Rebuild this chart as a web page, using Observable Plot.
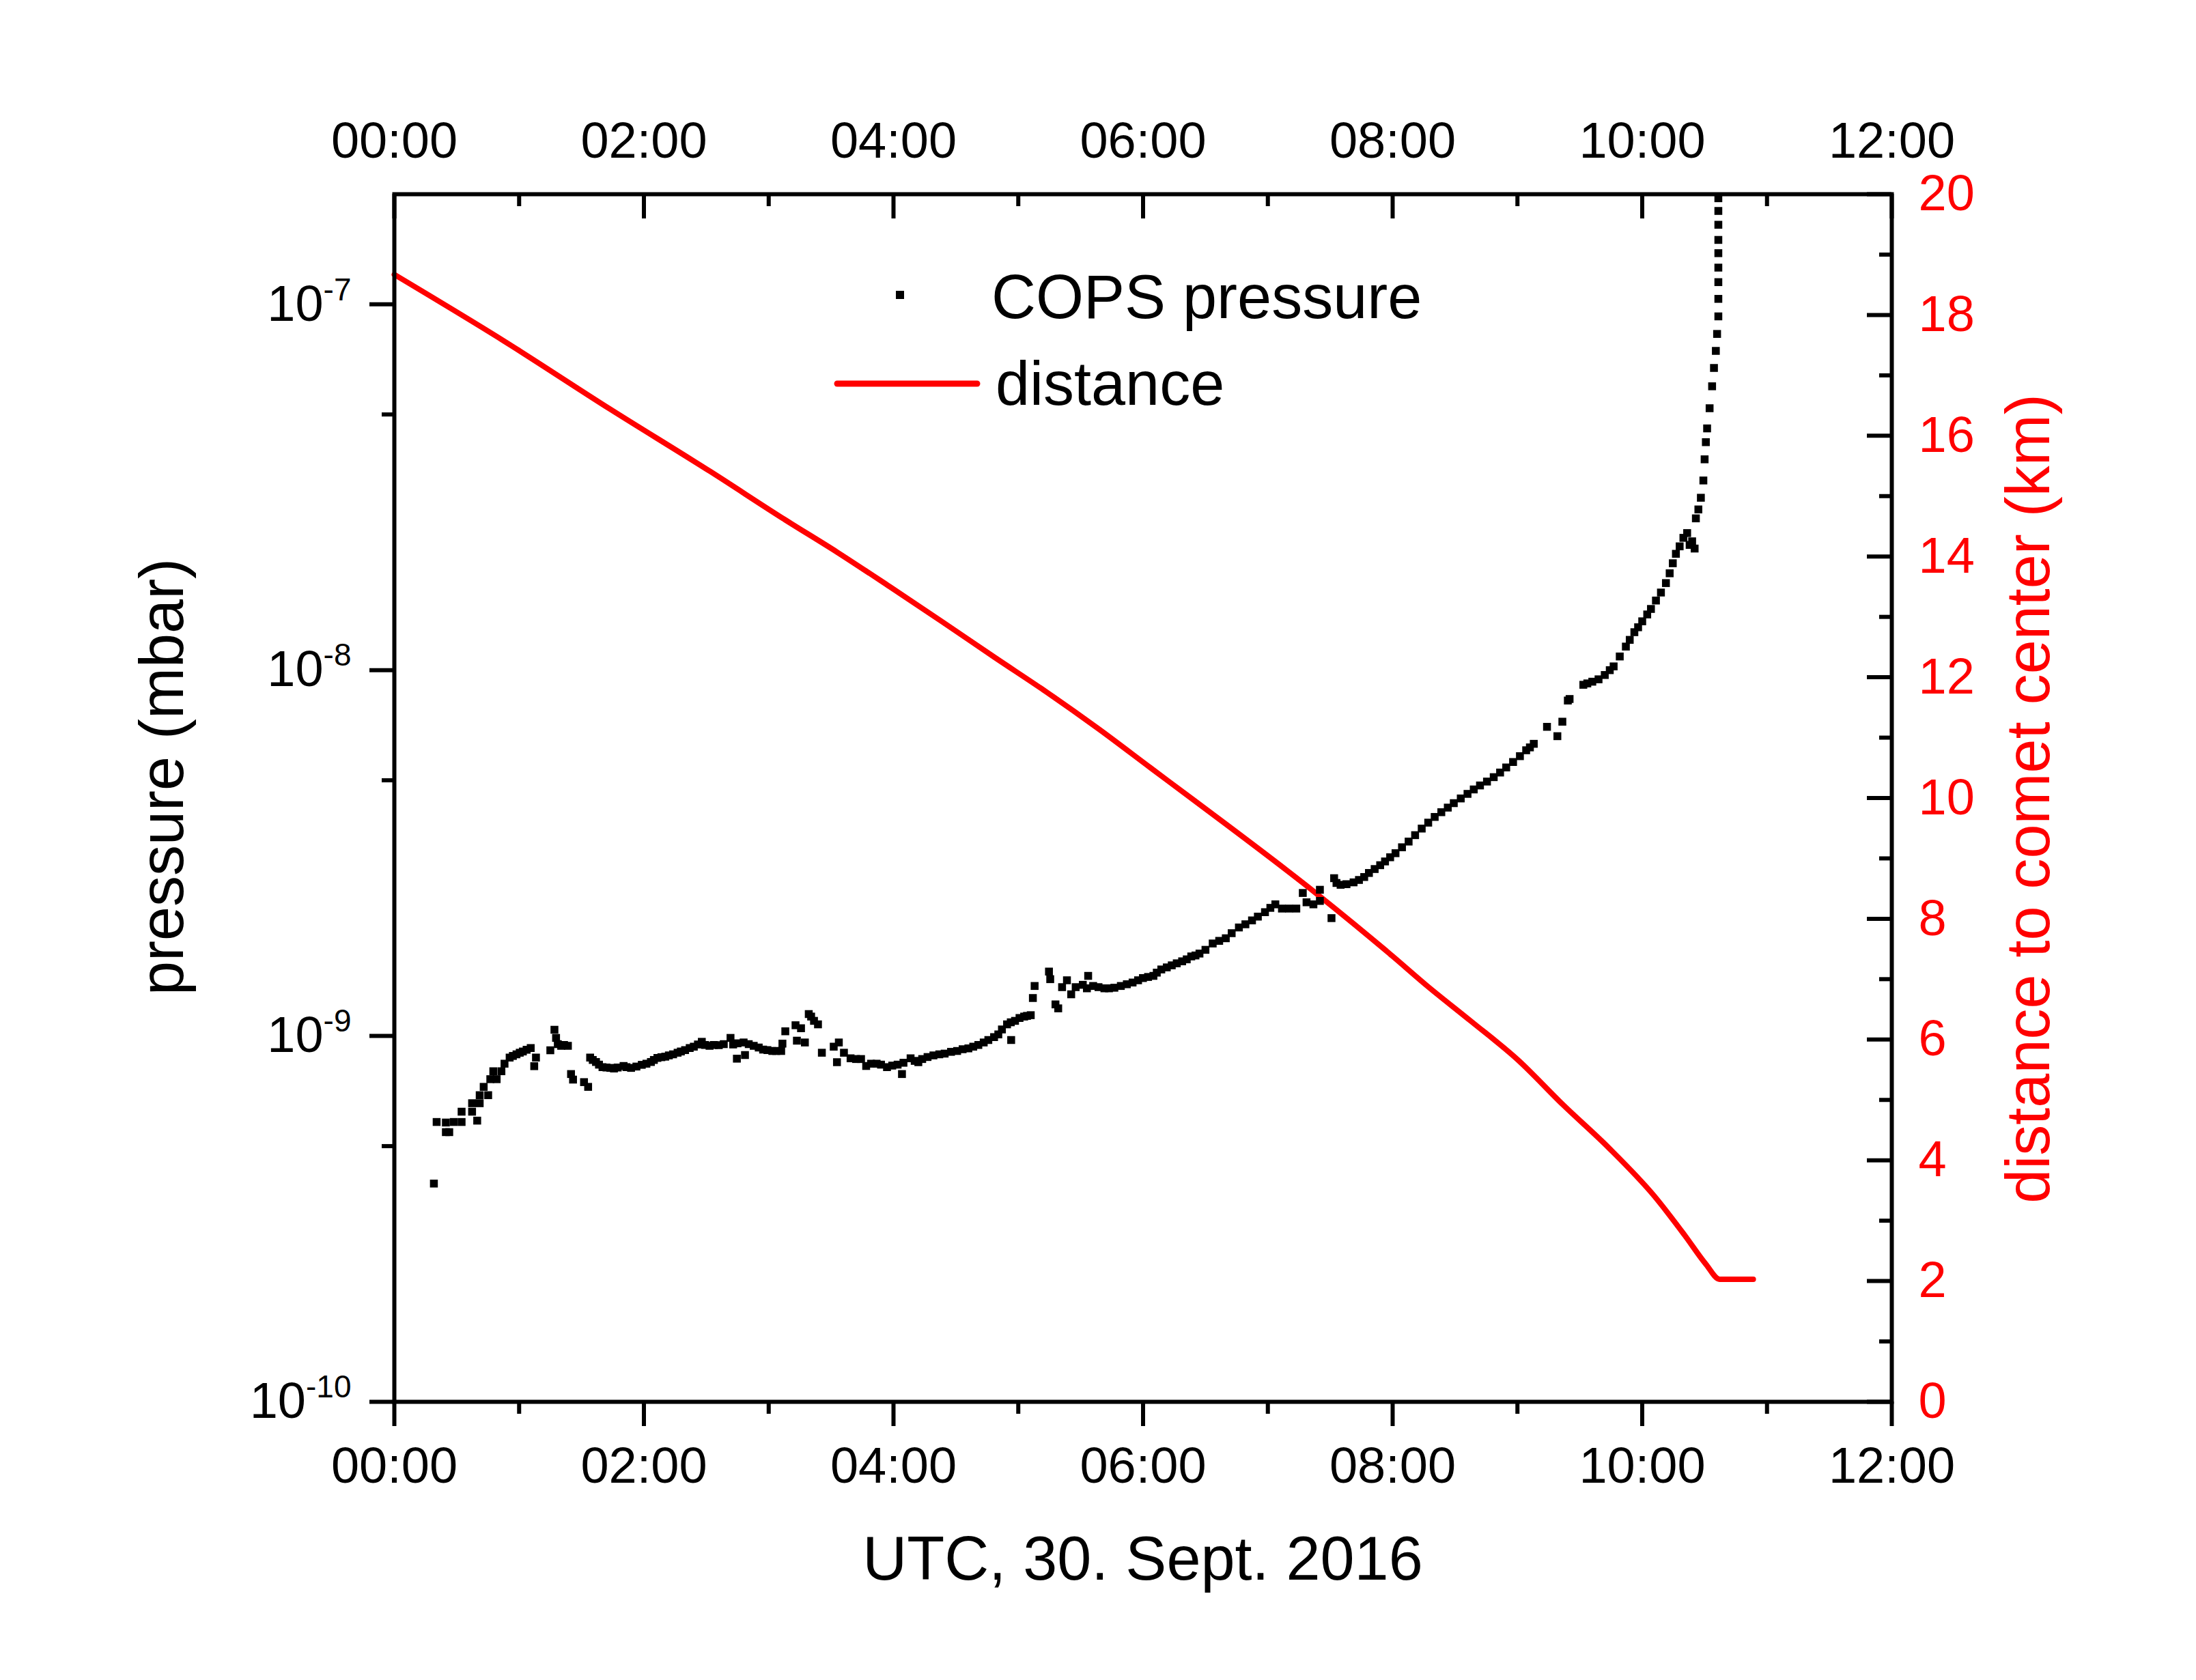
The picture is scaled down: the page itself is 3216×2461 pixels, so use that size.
<!DOCTYPE html>
<html>
<head>
<meta charset="utf-8">
<script src="https://cdn.jsdelivr.net/npm/d3@7"></script>
<script src="https://cdn.jsdelivr.net/npm/@observablehq/plot@0.6"></script>
<style>
  html, body { margin: 0; padding: 0; background: #fff; }
</style>
</head>
<body>
<div id="chart"></div>
<script>
// ---- data: [time (hours UTC, 30 Sept 2016), pressure in units of 1e-10 mbar] ----
const presEarly = [
  [0.317,3.95],[0.339,5.82],[0.413,5.80],[0.413,5.46],[0.440,5.46],[0.476,5.82],[0.539,5.82],[0.539,6.21],[0.623,6.21],[0.623,6.55],
  [0.664,5.87],[0.684,6.55],[0.684,6.89],[0.716,7.26],[0.752,6.89],[0.769,7.62],[0.793,8.01],[0.820,7.62],[0.858,8.01],[0.883,8.40],
  [0.924,8.73],[0.95,8.82],[0.979,8.91],[1.005,9.0],[1.030,9.07],[1.06,9.17],[1.093,9.27],[1.121,8.27],[1.135,8.73],[1.250,9.14],
  [1.283,10.4],[1.296,9.88],[1.31,9.5],[1.337,9.40],[1.36,9.45],[1.391,9.40],[1.416,7.87],[1.432,7.60],[1.520,7.48],[1.553,7.26],
  [1.569,8.73],[1.59,8.6],[1.616,8.49],[1.64,8.35],[1.668,8.22],[1.70,8.2],[1.731,8.18],[1.76,8.15],[1.79,8.2],[1.837,8.28],
  [1.86,8.22],[1.897,8.18],[1.94,8.25],[1.983,8.34],[2.02,8.40],[2.056,8.49],[2.08,8.6],[2.108,8.71],[2.14,8.75],[2.171,8.78],
  [2.20,8.85],[2.234,8.91],[2.27,9.0],[2.296,9.07],[2.33,9.15],[2.367,9.27],[2.40,9.35],[2.433,9.48],[2.464,9.64],[2.49,9.45],
  [2.526,9.40],[2.56,9.45],[2.600,9.44],[2.64,9.5],[2.694,9.88],[2.715,9.48],[2.745,8.67],[2.75,9.55],[2.799,9.60],[2.810,8.87],
  [2.84,9.5],[2.880,9.40],[2.92,9.3],[2.955,9.18],[2.99,9.15],[3.029,9.10],[3.06,9.1],[3.100,9.10],[3.110,9.53],[3.133,10.3],
  [3.215,10.7],[3.226,9.71],[3.259,10.5],[3.290,9.60],[3.321,11.48],[3.34,11.3],[3.363,11.0],[3.395,10.76],[3.426,9.00],[3.521,9.35],
  [3.547,8.48],[3.562,9.60],[3.603,9.00]
];
const presMid = [
  [3.656,8.69],[3.70,8.65],[3.740,8.65],[3.781,8.28],[3.82,8.4],[3.865,8.40],[3.90,8.35],[3.948,8.22],[3.99,8.3],[4.033,8.35],
  [4.068,7.87],[4.08,8.45],[4.137,8.69],[4.17,8.55],[4.199,8.48],[4.23,8.65],[4.273,8.76],[4.32,8.85],[4.367,8.91],[4.41,8.95],
  [4.461,9.05],[4.51,9.1],[4.554,9.20],[4.60,9.25],[4.639,9.35],[4.68,9.45],[4.723,9.60],[4.76,9.75],[4.806,9.93],[4.84,10.1],
  [4.869,10.42],[4.910,10.76],[4.94,10.9],[4.943,9.75],[4.974,11.0],[5.01,11.2],[5.047,11.3],[5.07,11.35],[5.100,11.4],[5.117,12.7],
  [5.131,13.7],[5.246,15.0],[5.256,14.3],[5.298,12.2],[5.320,11.9],[5.351,13.6],[5.390,14.2],[5.424,13.0],[5.46,13.6],[5.517,13.8],
  [5.550,13.5],[5.560,14.6],[5.60,13.7],[5.643,13.6],[5.69,13.5],[5.727,13.5],[5.77,13.55],[5.822,13.7],[5.87,13.85],[5.916,14.0],
  [5.96,14.2],[5.999,14.4],[6.04,14.5],[6.083,14.6],[6.11,14.9],[6.146,15.2],[6.19,15.4],[6.230,15.6],[6.27,15.8],[6.313,16.0],
  [6.35,16.2],[6.386,16.5],[6.42,16.6],[6.452,16.8],[6.50,17.2],[6.558,17.9],[6.61,18.2],[6.663,18.5],[6.71,19.1],[6.768,19.8],
  [6.82,20.2],[6.873,20.7],[6.92,21.2],[6.977,21.8],[7.02,22.4],[7.060,22.9],[7.113,22.3],[7.17,22.3],[7.228,22.3],[7.280,24.6],
  [7.310,23.2],[7.365,22.9],[7.417,25.1],[7.417,23.4],[7.510,21.0]
];
const presLate = [
  [7.531,27.0],[7.55,26.2],[7.583,25.9],[7.63,26.0],[7.687,26.3],[7.73,26.7],[7.772,27.2],[7.81,27.9],[7.856,28.6],[7.90,29.3],
  [7.939,30.0],[7.98,30.8],[8.023,31.6],[8.075,32.8],[8.128,34.0],[8.18,35.4],[8.233,36.9],[8.285,38.3],[8.337,39.7],[8.39,40.9],
  [8.442,42.1],[8.49,43.3],[8.546,44.6],[8.60,45.9],[8.650,47.2],[8.70,48.4],[8.756,49.6],[8.81,51.0],[8.861,52.5],[8.91,54.2],
  [8.965,56.1],[9.02,58.2],[9.070,60.4],[9.10,61.5],[9.131,62.9],[9.237,70.0],[9.320,66.0],[9.360,72.3],[9.404,82.6],[9.418,83.4],
  [9.528,91.2],[9.56,92.0],[9.60,93.0],[9.650,94.4],[9.70,97.0],[9.74,100.0],[9.771,102.4],[9.82,109],[9.869,116],[9.90,121],
  [9.937,127],[9.967,131],[10.00,136],[10.04,142],[10.07,147],[10.11,155],[10.15,163],[10.19,173],[10.22,184],[10.245,196],
  [10.27,208],[10.30,218],[10.33,230],[10.36,237],[10.38,220],[10.40,225],[10.42,215],[10.43,260],[10.45,275],[10.47,296],
  [10.49,330],[10.50,377],[10.51,420],[10.52,458],[10.54,520],[10.56,597],[10.575,670],[10.59,746],[10.60,830],[10.61,927],
  [10.61,1035],[10.61,1150],[10.61,1260],[10.61,1380],[10.61,1500],[10.61,1650],[10.61,1800],[10.61,1950]
];
const distTime = [0.0,0.87,1.73,2.53,3.13,3.55,3.97,4.39,4.81,5.23,5.64,6.06,6.41,7.40,8.00,8.27,8.63,9.00,9.37,9.73,10.10,10.34,10.51,10.62,10.89];
const distKm   = [18.67,17.58,16.44,15.41,14.61,14.07,13.50,12.92,12.33,11.75,11.15,10.50,9.96,8.40,7.38,6.90,6.30,5.67,4.91,4.21,3.40,2.76,2.28,2.03,2.03];

const xMajorTicks = [0,2,4,6,8,10,12];
const xMinorTicks = [1,3,5,7,9,11];
const yMajorTicks = [1e-10,1e-9,1e-8,1e-7];
const yMinorTicks = [5e-10,5e-9,5e-8];
const kmMajorTicks = [0,2,4,6,8,10,12,14,16,18,20];
const kmMinorTicks = [1,3,5,7,9,11,13,15,17,19];

// ---- layout ----
const W = 3216, H = 2461;
const mT = 284, mR = 446, mB = 408, mL = 577;
const plotW = W - mL - mR, plotH = H - mT - mB;
const RED = "#ff0000";
const FONT = "'Liberation Sans', Arial, Helvetica, sans-serif";

// right axis (0–20 km) mapped onto the log pressure axis [1e-10, 2e-7]
const pMin = 1e-10, pMax = 2e-7, kmMax = 20;
const kmToP = km => pMin * Math.pow(pMax / pMin, km / kmMax);

const pressure = [...presEarly, ...presMid, ...presLate].map(([t, v]) => ({t, p: v * 1e-10}));
const distance = distTime.map((t, i) => ({t, p: kmToP(distKm[i])}));

const hhmm = h => String(h).padStart(2, "0") + ":00";

const svg = Plot.plot({
  width: W, height: H,
  marginTop: mT, marginRight: mR, marginBottom: mB, marginLeft: mL,
  style: {fontFamily: FONT, fontSize: "74px", background: "#fff", color: "#000"},
  x: {domain: [0, 12], label: null},
  y: {type: "log", domain: [pMin, pMax], label: null},
  marks: [
    // bottom axis (outward ticks)
    Plot.axisX({anchor: "bottom", ticks: xMajorTicks, tickFormat: hhmm, tickSize: 36, tickPadding: 30, strokeWidth: 6, label: null}),
    Plot.axisX({anchor: "bottom", ticks: xMinorTicks, tickFormat: () => "", tickSize: 18, strokeWidth: 6, label: null}),
    // top axis labels + inward ticks
    Plot.axisX({anchor: "top", ticks: xMajorTicks, tickFormat: hhmm, tickSize: 0, tickPadding: 54, label: null}),
    Plot.ruleX(xMajorTicks, {x: d => d, insetBottom: plotH - 36, stroke: "#000", strokeWidth: 6}),
    Plot.ruleX(xMinorTicks, {x: d => d, insetBottom: plotH - 18, stroke: "#000", strokeWidth: 6}),
    // left axis (outward ticks)
    Plot.axisY({anchor: "left", ticks: yMajorTicks, tickFormat: d => "10^" + Math.round(Math.log10(d)), tickSize: 36, tickPadding: 27, strokeWidth: 6, label: null}),
    Plot.axisY({anchor: "left", ticks: yMinorTicks, tickFormat: () => "", tickSize: 18, strokeWidth: 6, label: null}),
    // right axis (km): red labels, inward ticks
    Plot.text(kmMajorTicks, {y: d => kmToP(d), text: d => String(d), frameAnchor: "right", dx: 39, textAnchor: "start", lineAnchor: "middle", fill: RED, fontSize: 74}),
    Plot.ruleY(kmMajorTicks.map(kmToP), {y: d => d, insetLeft: plotW - 36, stroke: "#000", strokeWidth: 6}),
    Plot.ruleY(kmMinorTicks.map(kmToP), {y: d => d, insetLeft: plotW - 18, stroke: "#000", strokeWidth: 6}),
    // data
    Plot.line(distance, {x: "t", y: "p", stroke: RED, strokeWidth: 8, curve: "monotone-x", strokeLinejoin: "round", strokeLinecap: "round"}),
    Plot.dot(pressure, {x: "t", y: "p", symbol: "square", r: 6.5, fill: "#000", stroke: "none"}),
    Plot.frame({stroke: "#000", strokeWidth: 6})
  ]
});

// superscript exponents on the left tick labels
d3.select(svg).selectAll("text").each(function() {
  const m = /^10\^(-?\d+)$/.exec(this.textContent);
  if (!m) return;
  const t = d3.select(this);
  t.text(null);
  t.append("tspan").text("10");
  t.append("tspan").attr("dy", "-30").attr("font-size", "46px").text(m[1]);
});

const g = d3.select(svg).append("g").attr("font-family", FONT).attr("font-size", "90px").attr("text-anchor", "start");
// axis titles
g.append("text").attr("x", (mL + W - mR) / 2).attr("y", 2314).attr("text-anchor", "middle").attr("fill", "#000").text("UTC, 30. Sept. 2016");
g.append("text").attr("transform", "translate(268,1138) rotate(-90)").attr("text-anchor", "middle").attr("fill", "#000").text("pressure (mbar)");
g.append("text").attr("transform", "translate(3001,1170) rotate(-90)").attr("text-anchor", "middle").attr("fill", RED).text("distance to comet center (km)");
// legend
g.append("rect").attr("x", 1312).attr("y", 426).attr("width", 12).attr("height", 12).attr("fill", "#000");
g.append("text").attr("x", 1452).attr("y", 466).attr("text-anchor", "start").attr("fill", "#000").text("COPS pressure");
g.append("line").attr("x1", 1226).attr("x2", 1431).attr("y1", 562).attr("y2", 562).attr("stroke", RED).attr("stroke-width", 9).attr("stroke-linecap", "round");
g.append("text").attr("x", 1458).attr("y", 593).attr("text-anchor", "start").attr("fill", "#000").text("distance");

document.getElementById("chart").appendChild(svg);
</script>
</body>
</html>
